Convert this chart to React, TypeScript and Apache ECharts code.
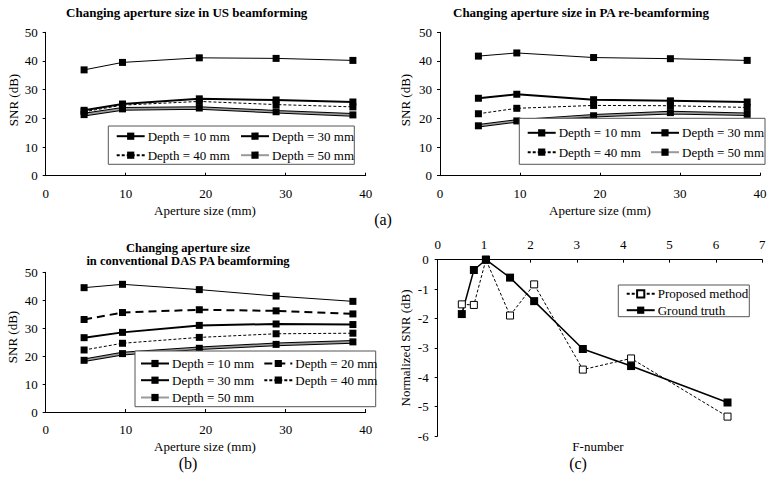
import React, { useEffect, useRef } from "react";
import * as echarts from "echarts";

const apertureSizes = [4.8, 9.6, 19.2, 28.8, 38.4];

const usDepth10 = [36.9, 39.5, 41.1, 40.9, 40.2];
const usDepth30 = [22.8, 25.0, 26.8, 26.4, 25.7];
const usDepth40 = [22.3, 24.6, 25.9, 24.8, 24.0];
const usDepth50 = [21.3, 23.3, 23.6, 22.3, 21.2];

const paDepth10 = [41.7, 42.8, 41.2, 40.8, 40.2];
const paDepth30 = [27.0, 28.4, 26.5, 26.1, 25.7];
const paDepth40 = [21.6, 23.5, 24.5, 24.4, 23.8];
const paDepth50 = [17.4, 19.1, 20.9, 22.0, 21.4];

const dasDepth10 = [44.5, 45.7, 43.8, 41.5, 39.6];
const dasDepth20 = [33.1, 35.6, 36.6, 36.2, 35.1];
const dasDepth30 = [26.6, 28.5, 31.0, 31.5, 31.3];
const dasDepth40 = [22.2, 24.6, 26.7, 28.0, 28.2];
const dasDepth50 = [18.5, 20.9, 22.8, 24.2, 25.1];

const fNumbers = [0.52, 0.78, 1.04, 1.56, 2.08, 3.13, 4.17, 6.25];
const proposedSNR = [-1.52, -1.54, 0, -1.9, -0.84, -3.74, -3.36, -5.34];
const groundTruthSNR = [-1.85, -0.35, 0, -0.61, -1.41, -3.04, -3.62, -4.86];

const snrTicks = { min: 0, max: 50, interval: 10 };
const apertureTicks = { min: 0, max: 40, interval: 10 };
const fTicks = { min: 0, max: 7, interval: 1 };
const normTicks = { min: -6, max: 0, interval: 1 };

const N10 = "Depth = 10 mm";
const N20 = "Depth = 20 mm";
const N30 = "Depth = 30 mm";
const N40 = "Depth = 40 mm";
const N50 = "Depth = 50 mm";
const NP = "Proposed method";
const NG = "Ground truth";

const FONT = "'Liberation Serif', 'Times New Roman', Times, serif";

function pairs(xs: number[], ys: number[]) {
  return xs.map((x, i) => [x, ys[i]]);
}

type Style = { width: number; type?: any; color?: string; symbol?: string; size?: number; fill?: string; z?: number };

function lineSeries(name: string, idx: number, xs: number[], ys: number[], s: Style) {
  return {
    type: "line",
    name,
    xAxisIndex: idx,
    yAxisIndex: idx,
    data: pairs(xs, ys),
    symbol: s.symbol ?? "rect",
    symbolSize: s.size ?? 7,
    showSymbol: s.symbol !== "none",
    z: s.z ?? 2,
    lineStyle: { color: s.color ?? "#000", width: s.width, type: s.type ?? "solid" },
    itemStyle: { color: s.fill ?? "#000", borderColor: "#000", borderWidth: s.fill ? 1 : 0 },
    emphasis: { disabled: true },
  };
}

function depthSet(idx: number, d10: number[], d30: number[], d40: number[], d50: number[]) {
  return [
    lineSeries(N10, idx, apertureSizes, d10, { width: 1 }),
    lineSeries(N30, idx, apertureSizes, d30, { width: 2 }),
    lineSeries(N40, idx, apertureSizes, d40, { width: 1, type: [3, 2] }),
    lineSeries(N50 + " outline", idx, apertureSizes, d50, { width: 3.6, symbol: "none", z: 1 }),
    lineSeries(N50, idx, apertureSizes, d50, { width: 1.6, color: "#9a9a9a" }),
  ];
}

const labelText = { fontFamily: FONT, fontSize: 13, color: "#000" };

function axisX(idx: number, t: any, position = "bottom", margin = 11) {
  return {
    type: "value",
    gridIndex: idx,
    position,
    ...t,
    axisLine: { show: true, onZero: false, lineStyle: { color: "#000", width: 1 } },
    axisTick: { show: true, inside: true, length: 3, lineStyle: { color: "#000" } },
    axisLabel: { ...labelText, margin },
    splitLine: { show: false },
  };
}

function axisY(idx: number, t: any, margin = 8) {
  return {
    type: "value",
    gridIndex: idx,
    ...t,
    axisLine: { show: true, onZero: false, lineStyle: { color: "#000", width: 1 } },
    axisTick: { show: true, inside: false, length: 3, lineStyle: { color: "#000" } },
    axisLabel: { ...labelText, margin },
    splitLine: { show: false },
  };
}

function legendItem(name: string, left: number, cy: number) {
  return {
    data: [name],
    left,
    top: cy - 7,
    padding: 0,
    itemWidth: 28,
    itemHeight: 9,
    itemGap: 0,
    selectedMode: false,
    textStyle: { ...labelText, padding: [0, 0, 0, -2] },
  };
}

function boxRect(x1: number, y1: number, x2: number, y2: number) {
  return {
    type: "rect",
    z: 3,
    shape: { x: x1, y: y1, width: x2 - x1, height: y2 - y1 },
    style: { fill: "#fff", stroke: "#555", lineWidth: 1 },
  };
}

function label(text: string, x: number, y: number, opts: any = {}) {
  return {
    type: "text",
    x,
    y,
    rotation: opts.rotation ?? 0,
    z: 5,
    style: {
      text,
      fontFamily: FONT,
      fontSize: opts.size ?? 13,
      fontWeight: opts.bold ? "bold" : "normal",
      fill: "#000",
      textAlign: "center",
      textVerticalAlign: "middle",
    },
  };
}

export default function App() {
  const ref = useRef<HTMLDivElement>(null);
  useEffect(() => {
    if (!ref.current) return;
    const chart = echarts.init(ref.current, null, { renderer: "svg" });
    const option: any = {
      animation: false,
      backgroundColor: "#fff",
      textStyle: { fontFamily: FONT },
      grid: [
        { left: 45.7, top: 32.3, width: 320, height: 143.4 },
        { left: 440, top: 32.3, width: 320, height: 143.4 },
        { left: 45.7, top: 272.3, width: 320, height: 139.7 },
        { left: 437.7, top: 259.7, width: 324.6, height: 176.3 },
      ],
      xAxis: [
        axisX(0, apertureTicks),
        axisX(1, apertureTicks),
        axisX(2, apertureTicks),
        axisX(3, fTicks, "top", 9),
      ],
      yAxis: [axisY(0, snrTicks), axisY(1, snrTicks), axisY(2, snrTicks), axisY(3, normTicks, 9)],
      legend: [
        legendItem(N10, 115.7, 136.7),
        legendItem(N30, 240, 136.7),
        legendItem(N40, 115.7, 155.7),
        legendItem(N50, 240, 155.7),
        legendItem(N10, 526.7, 133.3),
        legendItem(N30, 650, 133.3),
        legendItem(N40, 526.7, 152.7),
        legendItem(N50, 650, 152.7),
        legendItem(N10, 140, 364),
        legendItem(N20, 263.3, 364),
        legendItem(N30, 140, 380.7),
        legendItem(N40, 263.3, 380.7),
        legendItem(N50, 140, 398),
        legendItem(NP, 625.7, 294.3),
        legendItem(NG, 625.7, 310.7),
      ],
      graphic: [
        boxRect(108.3, 126, 354.3, 164.3),
        boxRect(519.3, 118.3, 765, 164.3),
        boxRect(135, 351, 375.7, 406.7),
        boxRect(618.3, 285, 749.3, 316.7),
        label("Changing aperture size in US beamforming", 186.7, 12, { bold: true }),
        label("Changing aperture size in PA re-beamforming", 581, 12, { bold: true }),
        label("Changing aperture size", 188, 247.5, { bold: true, size: 12.5 }),
        label("in conventional DAS PA beamforming", 188, 261, { bold: true, size: 12.5 }),
        label("SNR (dB)", 13.5, 100, { rotation: Math.PI / 2 }),
        label("SNR (dB)", 405, 100, { rotation: Math.PI / 2 }),
        label("SNR (dB)", 12, 337, { rotation: Math.PI / 2 }),
        label("Normalized SNR (dB)", 405.7, 348, { rotation: Math.PI / 2 }),
        label("Aperture size (mm)", 205, 210),
        label("Aperture size (mm)", 600, 210),
        label("Aperture size (mm)", 205, 446.7),
        label("F-number", 598, 446.7),
        label("(a)", 383, 219, { size: 16 }),
        label("(b)", 188, 463, { size: 16 }),
        label("(c)", 578, 463, { size: 16 }),
      ],
      series: [
        ...depthSet(0, usDepth10, usDepth30, usDepth40, usDepth50),
        ...depthSet(1, paDepth10, paDepth30, paDepth40, paDepth50),
        lineSeries(N10, 2, apertureSizes, dasDepth10, { width: 1 }),
        lineSeries(N20, 2, apertureSizes, dasDepth20, { width: 2, type: [8, 5] }),
        lineSeries(N30, 2, apertureSizes, dasDepth30, { width: 2 }),
        lineSeries(N40, 2, apertureSizes, dasDepth40, { width: 1, type: [3, 2] }),
        lineSeries(N50 + " outline", 2, apertureSizes, dasDepth50, { width: 3.6, symbol: "none", z: 1 }),
        lineSeries(N50, 2, apertureSizes, dasDepth50, { width: 1.6, color: "#9a9a9a" }),
        lineSeries(NP, 3, fNumbers, proposedSNR, { width: 1, type: [3, 2], fill: "#fff", size: 7 }),
        lineSeries(NG, 3, fNumbers, groundTruthSNR, { width: 1.5, size: 8 }),
      ],
    };
    chart.setOption(option);
    return () => chart.dispose();
  }, []);
  return (
    <div
      ref={ref}
      style={{ position: "absolute", left: 0, top: 0, width: 772, height: 481, background: "#fff" }}
    />
  );
}
